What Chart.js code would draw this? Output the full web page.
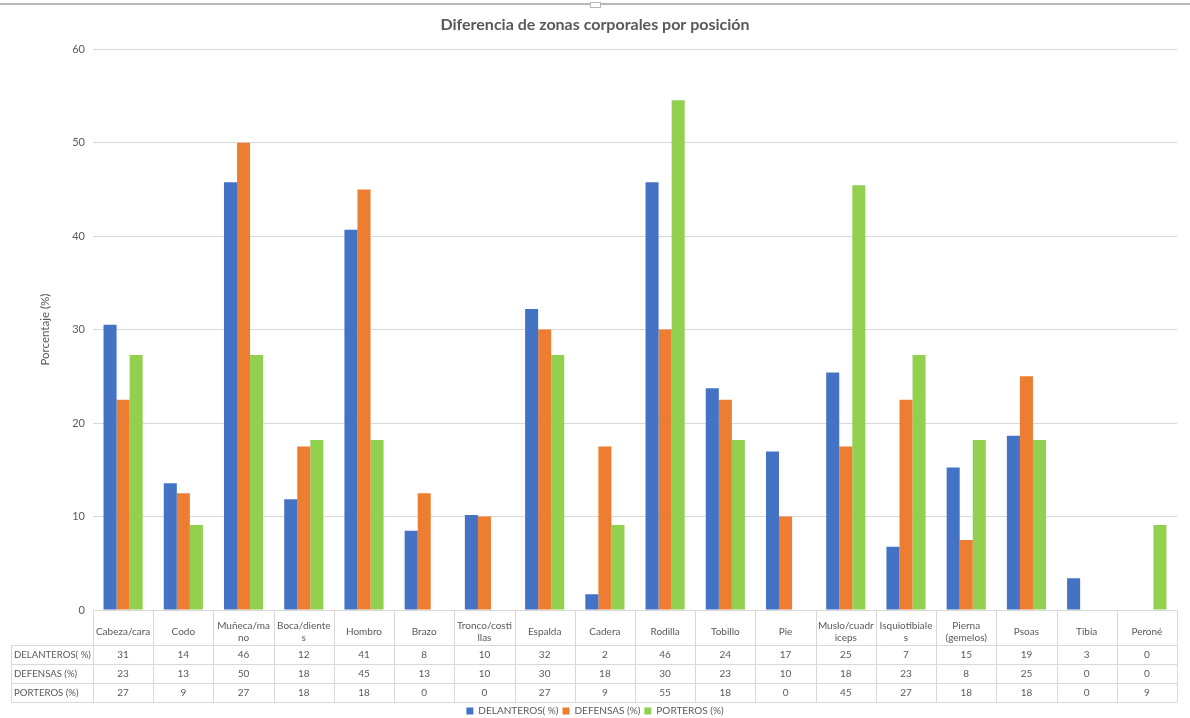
<!DOCTYPE html>
<html><head><meta charset="utf-8">
<script src="https://cdn.jsdelivr.net/npm/chart.js@4"></script>
<style>html,body{margin:0;padding:0;background:#fff}#wrap{width:1190px;height:718px;position:relative}</style>
</head><body><div id="wrap"><canvas id="c" width="1190" height="718"></canvas></div>
<script>
const chartTitle = 'Diferencia de zonas corporales por posición';
const yAxisTitle = 'Porcentaje (%)';
const categoryLabels = [
  ['Cabeza/cara'], ['Codo'], ['Muñeca/ma','no'], ['Boca/diente','s'], ['Hombro'], ['Brazo'],
  ['Tronco/costi','llas'], ['Espalda'], ['Cadera'], ['Rodilla'], ['Tobillo'], ['Pie'],
  ['Muslo/cuadr','iceps'], ['Isquiotibiale','s'], ['Pierna','(gemelos)'], ['Psoas'], ['Tibia'], ['Peroné']
];
const seriesNames = ['DELANTEROS( %)', 'DEFENSAS (%)', 'PORTEROS (%)'];
const delanteros = [30.51,13.56,45.76,11.86,40.68,8.47,10.17,32.2,1.69,45.76,23.73,16.95,25.42,6.78,15.25,18.64,3.39,0];
const defensas   = [22.5,12.5,50,17.5,45,12.5,10,30,17.5,30,22.5,10,17.5,22.5,7.5,25,0,0];
const porteros   = [27.27,9.09,27.27,18.18,18.18,0,0,27.27,9.09,54.55,18.18,0,45.45,27.27,18.18,18.18,0,9.09];
const seriesColors = ['#4472C4', '#ED7D31', '#92D050'];
const yTicks = [0,10,20,30,40,50,60];

const FONT = 'Lato, "Open Sans", sans-serif';
const TEXT = '#595959';
const LINE = '#d9d9d9';
const allSeries = [delanteros, defensas, porteros];

const tablePlugin = {
  id: 'dataTable',
  beforeDraw(chart) {
    const ctx = chart.ctx;
    ctx.save();
    ctx.fillStyle = '#fff';
    ctx.fillRect(0, 0, chart.width, chart.height);
    ctx.strokeStyle = '#b8b8b8';
    ctx.lineWidth = 2;
    ctx.beginPath(); ctx.moveTo(0, 4); ctx.lineTo(chart.width, 4); ctx.stroke();
    ctx.lineWidth = 1;
    ctx.fillStyle = '#fff';
    ctx.fillRect(590.5, 2.5, 10, 5);
    ctx.strokeRect(590.5, 2.5, 10, 5);
    ctx.restore();
  },
  afterDraw(chart) {
    const ctx = chart.ctx;
    const xs = chart.scales.x;
    const area = chart.chartArea;
    const n = categoryLabels.length;
    const w = (xs.right - xs.left) / n;
    const top = Math.round(area.bottom) + 0.5;
    const catBottom = top + 34;
    const rowH = 19.3;
    const tableLeft = 11;
    ctx.save();
    ctx.strokeStyle = LINE;
    ctx.lineWidth = 1;
    ctx.beginPath();
    ctx.moveTo(xs.left, top); ctx.lineTo(xs.right, top);
    for (let r = 0; r <= 3; r++) {
      const y = Math.round(catBottom + r * rowH) + 0.5;
      ctx.moveTo(tableLeft, y); ctx.lineTo(xs.right, y);
    }
    const bottom = Math.round(catBottom + 3 * rowH) + 0.5;
    ctx.moveTo(tableLeft + 0.5, Math.round(catBottom) + 0.5); ctx.lineTo(tableLeft + 0.5, bottom);
    for (let i = 0; i <= n; i++) {
      const x = Math.round(xs.left + i * w) + 0.5;
      ctx.moveTo(x, top); ctx.lineTo(x, bottom);
    }
    ctx.stroke();
    ctx.fillStyle = TEXT;
    ctx.textBaseline = 'middle';
    allSeries.forEach((arr, r) => {
      const y = catBottom + r * rowH + rowH / 2 + 0.5;
      ctx.font = '9.6px ' + FONT;
      ctx.textAlign = 'left';
      ctx.fillText(seriesNames[r], tableLeft + 3, y);
      ctx.font = '10px ' + FONT;
      ctx.textAlign = 'center';
      arr.forEach((v, i) => {
        ctx.fillText(String(Math.round(v)), xs.getPixelForValue(i), y);
      });
    });
    ctx.restore();
  }
};

new Chart(document.getElementById('c'), {
  type: 'bar',
  data: {
    labels: categoryLabels,
    datasets: allSeries.map((arr, i) => ({
      label: seriesNames[i],
      data: arr,
      backgroundColor: seriesColors[i],
      borderWidth: 0,
      categoryPercentage: 0.65,
      barPercentage: 1.0
    }))
  },
  options: {
    responsive: false,
    devicePixelRatio: 1,
    animation: false,
    layout: { padding: { left: 0, right: 0, top: 0, bottom: -8 } },
    plugins: {
      title: {
        display: true, text: chartTitle, color: TEXT,
        font: { family: FONT, size: 16, weight: 'bold' },
        padding: { top: 15, bottom: 15 }
      },
      legend: {
        position: 'bottom',
        labels: {
          color: TEXT, font: { family: FONT, size: 10 },
          boxWidth: 7, boxHeight: 7, padding: 4
        }
      },
      tooltip: { enabled: false }
    },
    scales: {
      x: {
        grid: { display: false },
        border: { display: false },
        ticks: {
          color: TEXT, font: { family: FONT, size: 10 },
          crossAlign: 'center', padding: 8, maxRotation: 0, autoSkip: false
        },
        afterFit(s) { s.height = 92; }
      },
      y: {
        min: 0, max: 60,
        afterBuildTicks(s) { s.ticks = yTicks.map(v => ({ value: v })); },
        grid: { color: LINE, drawTicks: false },
        border: { display: false },
        ticks: { color: TEXT, font: { family: FONT, size: 11 }, padding: 8 },
        title: { display: true, text: yAxisTitle, color: TEXT, font: { family: FONT, size: 11.5 }, padding: { top: 38, bottom: 0 } },
        afterFit(s) { s.width = 93; }
      },
      yRight: {
        position: 'right',
        display: true,
        min: 0, max: 60,
        grid: { display: false, drawTicks: false },
        border: { display: false },
        ticks: { display: false },
        afterFit(s) { s.width = 13; }
      }
    }
  },
  plugins: [tablePlugin]
});
</script>
</body></html>
